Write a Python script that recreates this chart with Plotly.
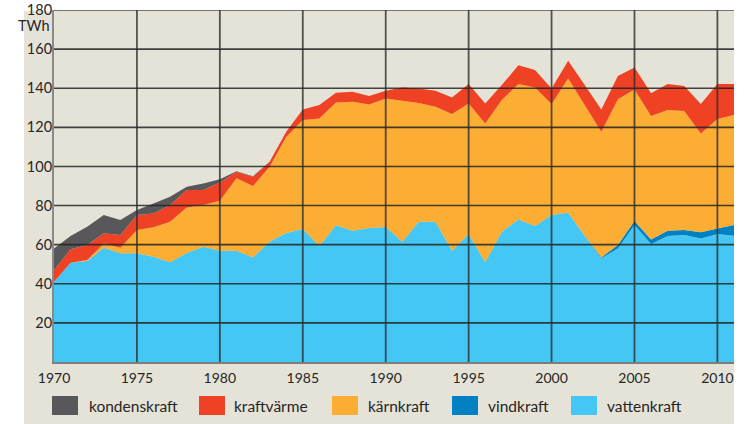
import plotly.graph_objects as go

years = list(range(1970, 2012))

vattenkraft = [41, 50.8, 51.6, 58.4, 55.6, 55.6, 53.8, 51, 55.8, 58.9,
               56.9, 56.9, 53.5, 61.5, 66, 68, 59.3, 69.9, 67.1, 68.5,
               69, 61.5, 71.7, 71.7, 56.9, 65.4, 51, 66.6, 72.9, 69.5,
               75.2, 76.3, 64.6, 53, 58.1, 70, 60.3, 64.4, 64.9, 63.2,
               65.4, 64.6]
vindkraft = [0] * 33 + [0.5, 1.7, 2.1, 2.4, 2.7, 2.6, 3.1, 2.9, 5.4]
karnkraft = [0, 0, 0.5, 2.2, 2.8, 11.9, 15.1, 20.7, 23.2, 21.4,
             25.6, 37, 36.5, 38.4, 49, 55.7, 65.2, 62.8, 66, 63.2,
             65.8, 72.1, 60.8, 58.8, 69.9, 66.8, 71, 67.4, 69.2, 70.9,
             56.7, 68.7, 66.8, 64.2, 74.5, 67.3, 63.1, 61.7, 60.8, 50.6,
             55.9, 56.3]
kraftvarme = [6, 6.8, 7.7, 5.2, 6.5, 7.7, 7.1, 8.6, 8.9, 7.6,
              9.3, 3.4, 4.7, 2.5, 2.7, 5.4, 6.9, 5, 5.1, 4.3,
              3.9, 6.8, 7.3, 8.2, 8.5, 9.9, 10.2, 7.6, 9.7, 8.9,
              8, 9, 10.2, 11.4, 11.9, 11.2, 11.6, 13.3, 12.8, 15,
              17.9, 15.8]
kondenskraft = [11, 6.8, 9.4, 9.4, 7.7, 2.5, 5.1, 4.2, 1.7, 3.4,
                1.6, 0.3, 0.3] + [0] * 29

series = [
    ("vattenkraft", vattenkraft, "#45c7f5"),
    ("vindkraft", vindkraft, "#0081c4"),
    ("kärnkraft", karnkraft, "#fbad34"),
    ("kraftvärme", kraftvarme, "#ef4224"),
    ("kondenskraft", kondenskraft, "#58585a"),
]
legend_order = ["kondenskraft", "kraftvärme", "kärnkraft", "vindkraft", "vattenkraft"]

x_ticks = list(range(1970, 2011, 5))
y_ticks = list(range(20, 181, 20))

FONT = "Lato"
BEIGE = "#e5e3d8"
TXT = "#262626"

# the page's body margin is removed below, so figure pixels == page pixels
W, H = 746, 424
ML, MT = 54, 10
MB = H - 362
MR = W - 734
PW, PH = W - ML - MR, H - MT - MB


def px(X):
    return (X - ML) / PW


def py(Y):
    return (H - MB - Y) / PH


fig = go.Figure()
for name, vals, col in series:
    fig.add_trace(go.Scatter(
        x=years, y=vals, name=name, mode="lines", stackgroup="one",
        line=dict(width=0, color=col), fillcolor=col, showlegend=False,
        hoverinfo="skip",
    ))

shapes = []
shapes.append(dict(type="rect", xref="paper", yref="paper",
                   x0=px(24), x1=1, y0=py(H + 2), y1=py(11),
                   fillcolor=BEIGE, line=dict(width=0), layer="below"))
for v in y_ticks:
    shapes.append(dict(type="line", xref="x", yref="y", x0=years[0], x1=years[-1],
                       y0=v, y1=v, line=dict(color="rgba(35,35,35,0.85)", width=1.6),
                       layer="above"))
for v in x_ticks[1:]:
    shapes.append(dict(type="line", xref="x", yref="y", x0=v, x1=v,
                       y0=0, y1=y_ticks[-1], line=dict(color="rgba(45,45,45,0.8)", width=1.8),
                       layer="above"))

leg_sq = [52, 199, 332, 452, 571]
leg_tx = [87, 232, 366, 486, 605]
colors = {n: c for n, _, c in series}
annotations = []
for name, sx, tx in zip(legend_order, leg_sq, leg_tx):
    shapes.append(dict(type="rect", xref="paper", yref="paper",
                       x0=px(sx), x1=px(sx + 26), y0=py(415), y1=py(396),
                       fillcolor=colors[name], line=dict(width=0)))
    annotations.append(dict(xref="paper", yref="paper", x=px(tx), y=py(405.5),
                            text=name, showarrow=False, xanchor="left", yanchor="middle",
                            font=dict(family=FONT, size=15.5, color=TXT)))

annotations.append(dict(xref="paper", yref="paper", x=px(52), y=py(26),
                        text="TWh", showarrow=False, xanchor="right", yanchor="middle",
                        font=dict(family=FONT, size=14.5, color=TXT)))

fig.update_layout(
    width=W, height=H,
    margin=dict(l=ML, r=MR, t=MT, b=MB, pad=0, autoexpand=False),
    paper_bgcolor="white",
    plot_bgcolor="rgba(0,0,0,0)",
    shapes=shapes,
    annotations=annotations,
    showlegend=False,
    hovermode=False,
    font=dict(family=FONT, size=14, color=TXT),
    xaxis=dict(range=[years[0], years[-1]], tickvals=x_ticks,
               ticktext=[str(v) for v in x_ticks], showgrid=False, zeroline=False,
               showline=True, linecolor="#7d7d7d", linewidth=2, ticks="",
               ticklabelstandoff=2, layer="above traces", automargin=False,
               ticklabeloverflow="allow",
               tickfont=dict(family=FONT, size=14, color=TXT)),
    yaxis=dict(range=[0, 180], tickvals=y_ticks, ticktext=[str(v) for v in y_ticks],
               showgrid=False, zeroline=False, showline=True, linecolor="#8a8a8a",
               linewidth=2, ticks="", ticklabelstandoff=-3, layer="above traces",
               automargin=False, ticklabeloverflow="allow",
               tickfont=dict(family=FONT, size=14.5, color=TXT)),
)

fig.write_html(
    "out.html",
    config={"displayModeBar": False, "staticPlot": True},
    post_script="document.body.style.margin='0px';document.body.style.overflow='hidden';",
)
